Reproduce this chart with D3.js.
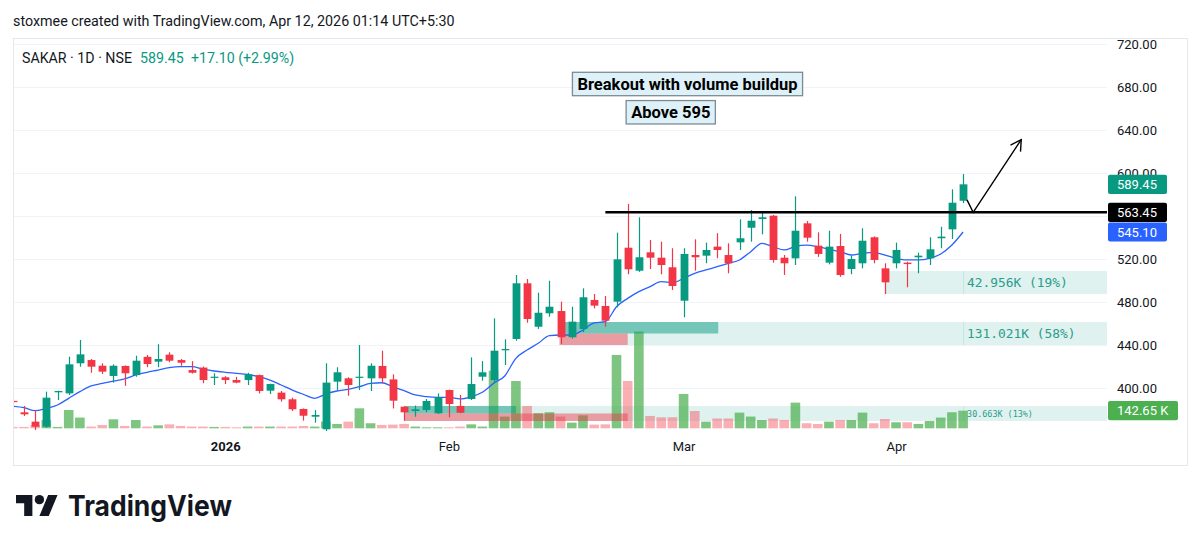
<!DOCTYPE html>
<html><head><meta charset="utf-8">
<script src="https://cdn.jsdelivr.net/npm/d3@7"></script>
<style>body{margin:0;background:#fff}svg{display:block}</style>
</head><body>
<svg id="c" width="1200" height="548"></svg>
<script>
// ---------------- DATA ----------------
const dates = [
"2025-12-04","2025-12-05","2025-12-08","2025-12-09","2025-12-10","2025-12-11","2025-12-12","2025-12-15","2025-12-16","2025-12-17","2025-12-18","2025-12-19","2025-12-22","2025-12-23","2025-12-24","2025-12-26","2025-12-29","2025-12-30","2025-12-31",
"2026-01-01","2026-01-02","2026-01-05","2026-01-06","2026-01-07","2026-01-08","2026-01-09","2026-01-12","2026-01-13","2026-01-14","2026-01-16","2026-01-19","2026-01-20","2026-01-21","2026-01-22","2026-01-23","2026-01-27","2026-01-28","2026-01-29","2026-01-30",
"2026-02-01","2026-02-02","2026-02-03","2026-02-04","2026-02-05","2026-02-06","2026-02-09","2026-02-10","2026-02-11","2026-02-12","2026-02-13","2026-02-16","2026-02-17","2026-02-18","2026-02-19","2026-02-20","2026-02-23","2026-02-24","2026-02-25","2026-02-26","2026-02-27",
"2026-03-02","2026-03-04","2026-03-05","2026-03-06","2026-03-09","2026-03-10","2026-03-11","2026-03-12","2026-03-13","2026-03-16","2026-03-17","2026-03-18","2026-03-19","2026-03-20","2026-03-23","2026-03-24","2026-03-25","2026-03-27","2026-03-30",
"2026-04-01","2026-04-02","2026-04-06","2026-04-07","2026-04-08","2026-04-09","2026-04-10"];

const opens  = [388,377.4,368.7,364,396,395,423,426,420.7,411.2,420.5,412,429,424.5,431,426,416.7,419,409.6,410,407.4,407.4,412,397.5,395.7,389.5,380.5,373.3,361.6,405.9,409,409.6,409,420.5,408,382.6,378.6,379.5,376.5,398.1,383.3,389.8,410.5,407.4,435.1,445.6,497.4,457,469.5,471.6,447.2,454.9,481.9,476.3,480.3,530.5,509.1,526.2,521.2,512.3,481.2,523.7,523.1,531.5,523.7,535.5,549.1,557.2,560.3,521.2,520.6,553.2,532.4,516.6,532.1,510.7,516,540.2,511.3,516,516.6,521.6,520.6,539.3,547.6,574.2];
const highs  = [389,383.3,379.5,396.6,397.5,429.1,444.7,427,423,422,421,430,430.7,440.7,433.2,427,425,420,413.7,411,410.4,414.2,412.5,404,397.2,391,381,379.5,423,419.3,410,440,423,434.7,412.7,383,383.6,389.8,395,398.5,393.5,428.5,425,464.8,445.3,505.1,501.4,488.7,499.8,480.3,475.6,492.7,487.4,485.6,544.5,571.2,558.8,537.7,536.1,530,530,538.3,535.2,544,534.6,556.9,565.6,564,561,523.7,578.3,555.3,544.8,546.3,543.3,523.1,548.6,541,516,535.2,517.5,525.9,540.2,550,584.8,599];
const lows   = [386,374,361,363,388.8,393.5,419.8,414.2,413,405,402,410.5,419.3,419.3,424,420.7,413.5,404.4,402.8,403.7,404.4,402.8,395,394.4,387.3,378.6,369.6,367.7,360,398.1,392.8,398.1,397.2,404.4,381,369.6,373.3,377.4,375.8,372.7,376.5,388.8,406.8,405,421.4,444,460.7,455,466.3,441,446,452,474.1,457,475,505.8,508,510.7,505.8,491.2,465.8,509.1,516,520.7,506.7,528.4,536.1,543,516.6,505.1,514.4,536.1,522,515,503.5,505.8,511.3,516,487.4,511.3,493.7,506.7,514.4,530,538.6,572];
const closes = [387.3,375.5,364,391,397.2,422,431.3,419.8,415.2,420.7,413.7,425.4,422.3,427,425.4,423.5,414.2,407.4,410.5,407.4,405,412.7,397.2,403.7,389.5,380.2,374.2,374.9,405,414.6,402.8,410.5,420.7,409,388.2,377.4,380.2,387.9,391.3,385.1,377,403.7,414.6,434.7,436.3,497.4,464.2,470,475.6,447.2,461.7,484.4,476.6,462.6,519.7,510.4,521.6,521.2,514.4,494.9,524.7,521.6,528.4,528.4,516,539.3,555.6,558.8,519.1,516,546.3,539.8,524.7,531.5,505.1,520,537,519.1,498.3,528.4,515.3,523.1,529,540.8,572.35,589.45];
// volume in thousands
const volumes = [11,11,27,67,11,148,87,14,27,73,19,67,14,24,32,19,14,14,11,11,8,14,14,14,14,14,19,14,54,35,54,162,41,27,30,35,14,8,8,8,14,32,14,467,95,383,181,122,130,95,46,105,30,32,594,383,783,100,89,89,278,140,54,79,79,127,95,67,79,67,208,41,35,54,67,67,127,41,75,49,49,35,59,87,130,142.65];
// moving average
const maValues = [383,381.7,378.9,381.1,384.2,390.4,396.6,401.9,404.3,406.5,408.4,412.1,414.6,416.7,418.9,419.8,419.8,417.7,415.8,414.6,413.7,412.7,410.5,407.4,402.8,398.1,394.1,390.4,394.4,397.2,398.8,401.2,404.3,404.9,401.2,397.5,393.5,391.9,391.3,391.3,389.8,391.9,396,404.3,411.2,427.6,435.3,441.6,448.7,449.3,449.3,454,460.5,461.7,475.6,483.4,489.6,494.3,498.9,498,502,506.7,509.8,512.8,516,519.1,526.8,534.6,531.5,528.4,531.8,533,531.5,529,526.8,523.7,525.3,526.2,523.7,520.6,519.1,519.1,520.6,524.7,533,545.1];

const gridPrices = [720,680,640,600,560,520,480,440,400];
const priceTickLabels = [720,680,640,600,520,480,440,400];
const monthNames = ["Jan","Feb","Mar","Apr","May","Jun","Jul","Aug","Sep","Oct","Nov","Dec"];

// volume zones (anchored at a bar index, price range, bar extents, label)
const zoneStartIdx   = [78.1, 48.9, 35];
const zoneLow        = [487.4, 440, 369.3];
const zoneHigh       = [508.8, 461.4, 383.3];
const zoneUpEndIdx   = [null, 63.1, 45];
const zoneDownEndIdx = [null, 55, 55];
const zoneLabels     = ["42.956K (19%)", "131.021K (58%)", "30.663K (13%)"];

// drawings
const levelPrice = 563.45, levelStartIdx = 53;
const arrowPts = [[85.35, 575], [85.9, 563.45], [90.2, 631]];
const notes = [
  {text: "Breakout with volume buildup", idx: 60.35, price: 682.8},
  {text: "Above 595", idx: 58.85, price: 656.5}
];
const header = "stoxmee created with TradingView.com, Apr 12, 2026 01:14 UTC+5:30";
const symbolText = "SAKAR · 1D · NSE";
const lastPriceText = "589.45";
const changeText = "+17.10 (+2.99%)";

// ---------------- LAYOUT ----------------
const svg = d3.select("#c");
const FONT = "Roboto, 'Noto Sans', sans-serif";
const paneL = 13, paneT = 38, paneR = 1187, paneB = 465, plotR = 1107;
const UP = "#089981", DOWN = "#f23645";

const x = d3.scaleLinear().domain([0, dates.length - 1]).range([12.8, 963.1]);
const y = d3.scaleLinear().domain([400, 720]).range([388, 44]);
const yv = d3.scaleLinear().domain([0, 800]).range([428.3, 329.5]);

svg.append("rect").attr("width", 1200).attr("height", 548).attr("fill", "#fff");

// header
svg.append("text").attr("x", 13).attr("y", 26).attr("font-family", FONT).attr("font-size", 14.3)
  .attr("fill", "#131722").text(header);

// pane border
svg.append("rect").attr("x", paneL + 0.5).attr("y", paneT + 0.5).attr("width", paneR - paneL)
  .attr("height", paneB - paneT).attr("fill", "none").attr("stroke", "#e6e8ee");

svg.append("defs").append("clipPath").attr("id", "clip").append("rect")
  .attr("x", paneL + 1).attr("y", paneT + 1).attr("width", plotR - paneL - 1).attr("height", paneB - paneT - 1);

// grid
svg.append("g").selectAll("line").data(gridPrices).join("line")
  .attr("x1", paneL + 1).attr("x2", plotR).attr("y1", d => Math.round(y(d)) + 0.5).attr("y2", d => Math.round(y(d)) + 0.5)
  .attr("stroke", "#f0f3fa");

// symbol line
svg.append("text").attr("x", 22).attr("y", 63).attr("font-family", FONT).attr("font-size", 14.2)
  .attr("fill", "#131722").text(symbolText);
svg.append("text").attr("x", 140).attr("y", 63).attr("font-family", FONT).attr("font-size", 14.2)
  .attr("fill", UP).text(lastPriceText);
svg.append("text").attr("x", 191).attr("y", 63).attr("font-family", FONT).attr("font-size", 14.2)
  .attr("fill", UP).text(changeText);

const plot = svg.append("g").attr("clip-path", "url(#clip)");

// zone bands + labels
const zones = zoneLabels.map((t, k) => ({k, t, s: zoneStartIdx[k], lo: zoneLow[k], hi: zoneHigh[k], up: zoneUpEndIdx[k], dn: zoneDownEndIdx[k]}));
plot.append("g").selectAll("rect").data(zones).join("rect")
  .attr("x", d => x(d.s)).attr("y", d => y(d.hi)).attr("width", d => plotR - x(d.s))
  .attr("height", d => y(d.lo) - y(d.hi)).attr("fill", "rgba(8,153,129,0.13)");
plot.append("g").selectAll("line").data(zones).join("line")
  .attr("x1", x(dates.length - 1) + 0.5).attr("x2", x(dates.length - 1) + 0.5)
  .attr("y1", d => y(d.hi)).attr("y2", d => y(d.lo)).attr("stroke", "rgba(8,153,129,0.12)");
plot.append("g").selectAll("text").data(zones).join("text")
  .attr("x", x(dates.length - 1) + 4).attr("y", d => (y(d.hi) + y(d.lo)) / 2)
  .attr("dy", "0.36em")
  .attr("font-family", "'DejaVu Sans Mono', 'Liberation Mono', monospace")
  .attr("font-size", d => Math.min(13.5, (y(d.lo) - y(d.hi)) * 0.56))
  .attr("fill", "#2a9d8c").text(d => d.t);

// volume bars
const idx = d3.range(dates.length);
plot.append("g").selectAll("rect").data(idx).join("rect")
  .attr("x", i => x(i) - 4.8).attr("width", 9.6)
  .attr("y", i => yv(volumes[i])).attr("height", i => yv(0) - yv(volumes[i]))
  .attr("fill", i => closes[i] >= opens[i] ? "rgba(76,175,80,0.72)" : "rgba(242,54,69,0.4)");

// zone up/down bars
const zb = plot.append("g");
zones.filter(d => d.up != null).forEach(d => {
  const mid = (y(d.hi) + y(d.lo)) / 2;
  zb.append("rect").attr("x", x(d.s)).attr("y", y(d.hi)).attr("width", x(d.up) - x(d.s))
    .attr("height", mid - y(d.hi)).attr("fill", "rgba(8,153,129,0.5)");
  zb.append("rect").attr("x", x(d.s)).attr("y", mid).attr("width", x(d.dn) - x(d.s))
    .attr("height", y(d.lo) - mid).attr("fill", "rgba(242,54,69,0.45)");
});

// moving average
plot.append("path").datum(idx).attr("fill", "none").attr("stroke", "#2962ff").attr("stroke-width", 1.3)
  .attr("d", d3.line().x(i => x(i)).y(i => y(maValues[i])).curve(d3.curveMonotoneX));

// candles
const cg = plot.append("g").selectAll("g").data(idx).join("g");
cg.append("line").attr("x1", i => Math.round(x(i)) + 0.5).attr("x2", i => Math.round(x(i)) + 0.5)
  .attr("y1", i => y(highs[i])).attr("y2", i => y(lows[i]))
  .attr("stroke", i => closes[i] >= opens[i] ? UP : DOWN).attr("stroke-width", 1.2);
cg.append("rect").attr("x", i => Math.round(x(i)) + 0.5 - 3.9).attr("width", 7.8)
  .attr("y", i => y(Math.max(opens[i], closes[i])))
  .attr("height", i => Math.max(1.2, Math.abs(y(opens[i]) - y(closes[i]))))
  .attr("fill", i => closes[i] >= opens[i] ? UP : DOWN);

// level line
plot.append("line").attr("x1", x(levelStartIdx)).attr("x2", plotR)
  .attr("y1", y(levelPrice)).attr("y2", y(levelPrice)).attr("stroke", "#000").attr("stroke-width", 2.6);

// arrow
const ap = arrowPts.map(p => [x(p[0]), y(p[1])]);
plot.append("path").attr("d", d3.line()(ap)).attr("fill", "none").attr("stroke", "#000").attr("stroke-width", 1.4);
{
  const [x1, y1] = ap[ap.length - 2], [x2, y2] = ap[ap.length - 1];
  const a = Math.atan2(y1 - y2, x1 - x2), L = 12, s = Math.PI / 6;
  const w1 = [x2 + L * Math.cos(a + s), y2 + L * Math.sin(a + s)];
  const w2 = [x2 + L * Math.cos(a - s), y2 + L * Math.sin(a - s)];
  plot.append("path").attr("d", d3.line()([w1, [x2, y2], w2])).attr("fill", "none")
    .attr("stroke", "#000").attr("stroke-width", 1.4);
}

// notes
notes.forEach(n => {
  const g = svg.append("g");
  const t = g.append("text").attr("x", x(n.idx)).attr("y", y(n.price)).attr("text-anchor", "middle")
    .attr("dy", "0.36em").attr("font-family", FONT).attr("font-weight", 700).attr("font-size", 16.5)
    .attr("fill", "#000").text(n.text);
  const w = t.node().getComputedTextLength();
  g.insert("rect", "text").attr("x", x(n.idx) - w / 2 - 5).attr("y", y(n.price) - 11.7)
    .attr("width", w + 10).attr("height", 23.4).attr("fill", "#def1f8")
    .attr("stroke", "#7d8b93").attr("stroke-width", 1.3);
});

// price axis
const ya = svg.append("g").attr("transform", `translate(${plotR},0)`)
  .call(d3.axisRight(y).tickValues(priceTickLabels).tickFormat(d3.format(".2f")).tickSize(0).tickPadding(10));
ya.select(".domain").remove();
ya.selectAll("text").attr("font-family", FONT).attr("font-size", 13).attr("fill", "#131722");

// time axis
const monthStarts = idx.filter(i => i > 0 && dates[i].slice(5, 7) !== dates[i - 1].slice(5, 7));
const xa = svg.append("g").attr("transform", "translate(0,442)")
  .call(d3.axisBottom(x).tickValues(monthStarts).tickSize(0).tickPadding(0)
    .tickFormat(i => { const m = +dates[i].slice(5, 7) - 1; return m === 0 ? dates[i].slice(0, 4) : monthNames[m]; }));
xa.select(".domain").remove();
xa.selectAll("text").attr("font-family", FONT).attr("font-size", 13).attr("fill", "#131722")
  .attr("font-weight", i => dates[i].slice(5, 7) === "01" ? 700 : 400);

// price labels on axis
const boxes = [
  {t: d3.format(".2f")(closes[closes.length - 1]), c: UP, yy: y(closes[closes.length - 1]), w: 59},
  {t: d3.format(".2f")(levelPrice), c: "#000", yy: y(levelPrice), w: 59},
  {t: d3.format(".2f")(maValues[maValues.length - 1]), c: "#2962ff", yy: y(maValues[maValues.length - 1]), w: 59},
  {t: d3.format(".2f")(volumes[volumes.length - 1]) + " K", c: "#4caf50", yy: yv(volumes[volumes.length - 1]), w: 70}
];
const bg = svg.append("g").selectAll("g").data(boxes).join("g");
bg.append("rect").attr("x", plotR + 1).attr("y", d => d.yy - 9.6).attr("width", d => d.w).attr("height", 19.2)
  .attr("rx", 2).attr("fill", d => d.c);
bg.append("text").attr("x", plotR + 10).attr("y", d => d.yy).attr("dy", "0.35em")
  .attr("font-family", FONT).attr("font-size", 13).attr("fill", "#fff").text(d => d.t);

// logo
const logo = svg.append("g");
logo.append("g").attr("transform", "translate(16,490.3) scale(1.17)").call(g => {
  g.append("path").attr("d", "M14 22H7V11H0V4h14v18zM28 22h-8l7.5-18h8L28 22z").attr("fill", "#131722");
  g.append("circle").attr("cx", 20).attr("cy", 8).attr("r", 4).attr("fill", "#131722");
});
logo.append("text").attr("x", 68).attr("y", 516).attr("font-family", "Inter, Lato, sans-serif")
  .attr("font-weight", 700).attr("font-size", 29).attr("fill", "#131722")
  .attr("textLength", 164).attr("lengthAdjust", "spacingAndGlyphs").text("TradingView");
</script>
</body></html>
